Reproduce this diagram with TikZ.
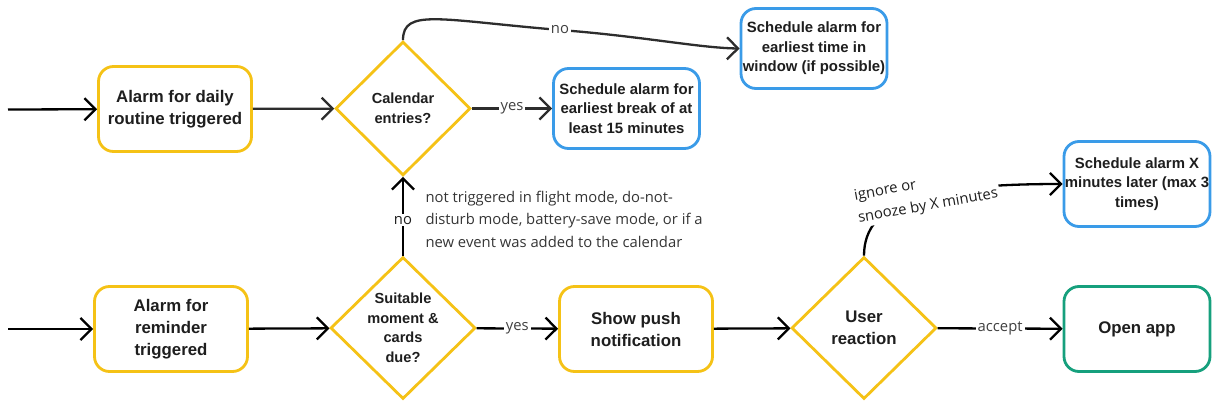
\documentclass[tikz,border=0pt]{standalone}
\usepackage{fontspec}
\setmainfont{Liberation Sans}
\newfontfamily\labelfont{Open Sans}
\usetikzlibrary{arrows.meta, shapes.geometric}
\definecolor{trigger}{RGB}{245, 194, 22}
\definecolor{schedule}{RGB}{58, 155, 232}
\definecolor{openapp}{RGB}{22, 160, 125}
\definecolor{ink}{RGB}{30, 30, 30}
\definecolor{wire}{RGB}{45, 45, 45}

\tikzset{
  flowbox/.style={draw, line width=2.8pt, rounded corners=15pt, fill=white, align=center,
    text=ink, inner sep=0pt, font=\bfseries\fontsize{16.8}{22}\selectfont},
  trigbox/.style={flowbox, draw=trigger, minimum width=153pt, minimum height=85pt},
  schedbox/.style={flowbox, draw=schedule, minimum width=146pt, minimum height=80pt,
    font=\bfseries\fontsize{14.9}{19.5}\selectfont},
  decision/.style={diamond, draw=trigger, line width=2.8pt, fill=white, align=center, text=ink,
    inner sep=0pt, minimum width=145pt, minimum height=142pt,
    font=\bfseries\fontsize{14.6}{19.5}\selectfont},
  flowarrow/.style={line width=2.3pt, draw=wire, -{Straight Barb[length=11pt, width=22pt]}},
  edgelabel/.style={fill=white, inner sep=2pt, text=ink!85, font=\labelfont\fontsize{14.8}{22.5}\selectfont},
}

\begin{document}
\begin{tikzpicture}[x=1pt, y=-1pt]
\useasboundingbox (0,0) rectangle (1212,404);

% daily routine
\coordinate (startroutine) at (8,109.5);
\node[trigbox] (routine) at (175,109) {Alarm for daily\\routine triggered};
\node[decision, minimum width=135pt, minimum height=134pt] (calendar) at (403,108.5) {Calendar\\entries?};
\node[schedbox] (breakslot) at (626.5,108.5) {Schedule alarm for\\earliest break of at\\least 15 minutes};
\node[schedbox] (window) at (814,48.5) {Schedule alarm for\\earliest time in\\window (if possible)};
\coordinate (nomid) at (560,30);

% reminder
\coordinate (startreminder) at (8,329);
\node[trigbox] (reminder) at (171,329) {Alarm for\\reminder\\triggered};
\node[decision] (suitable) at (403,328) {Suitable\\moment \&\\cards\\due?};
\node[trigbox] (push) at (636,329) {Show push\\notification};
\node[decision, font=\bfseries\fontsize{16.8}{22}\selectfont] (reaction) at (864,328) {User\\reaction};
\node[schedbox, minimum height=85pt] (snooze) at (1137,184) {Schedule alarm X\\minutes later (max 3\\times)};
\node[flowbox, draw=openapp, minimum width=146pt, minimum height=85pt] (open) at (1137,329) {Open app};

\node[anchor=west, align=left, text=ink!90, font=\labelfont\fontsize{14.8}{22.5}\selectfont] (note) at (422,219)
  {not triggered in flight mode, do-not-\\disturb mode, battery-save mode, or if a\\new event was added to the calendar};

% connectors
\draw[flowarrow, draw=black] (startroutine) -- (routine);
\draw[flowarrow] (routine) -- (calendar);
\draw[flowarrow] (calendar) -- node[edgelabel] {yes} (breakslot);
\draw[flowarrow] (calendar.north) .. controls (403,8) and (440,20) .. (nomid) node[edgelabel] {no}
  .. controls (640,36) and (700,48) .. (window.west);

\draw[flowarrow, draw=black] (startreminder) -- (reminder);
\draw[flowarrow, draw=black] (reminder) -- (suitable);
\draw[flowarrow, draw=black] (suitable) -- node[pos=.45, edgelabel, text=ink] {no} (calendar);
\draw[flowarrow, draw=black] (suitable) -- node[edgelabel] {yes} (push);
\draw[flowarrow, draw=black] (push) -- (reaction);
\draw[flowarrow, draw=black] (reaction) -- node[edgelabel] {accept} (open);
\draw[flowarrow, draw=black] (reaction.north) .. controls (864,200) and (930,184) .. (snooze.west)
  node[pos=.56, edgelabel, text=ink, rotate=10, align=left] {ignore or\\snooze by X minutes};
\end{tikzpicture}
\end{document}
